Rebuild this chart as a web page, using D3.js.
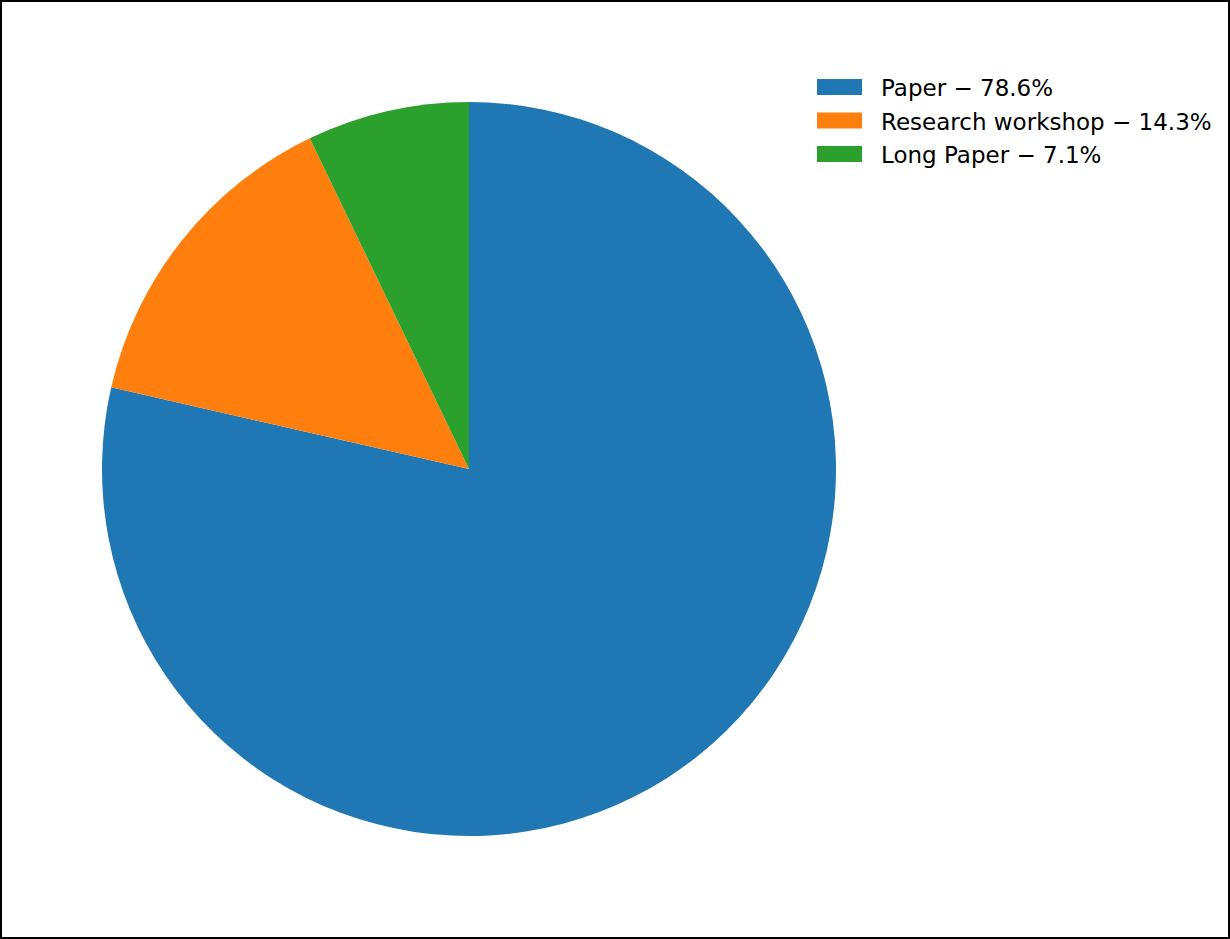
<!DOCTYPE html>
<html>
<head>
<meta charset="utf-8">
<script src="https://cdn.jsdelivr.net/npm/d3@7"></script>
<style>
  body { margin: 0; background: #fff; }
  svg { display: block; }
</style>
</head>
<body>
<div id="container"></div>
<script>
// pie data
var categories = ["Paper", "Research workshop", "Long Paper"];
var counts = [11, 2, 1];
var colors = ["#1f77b4", "#ff7f0e", "#2ca02c"];

var svg_width = 1230,
    svg_height = 939;

var cx = 469, cy = 469, radius = 367;

var svg = d3.select("#container")
  .append("svg")
  .attr("width", svg_width)
  .attr("height", svg_height);

svg.append("rect")
  .attr("x", 1).attr("y", 1)
  .attr("width", svg_width - 2).attr("height", svg_height - 2)
  .style("fill", "#fff")
  .style("stroke", "#000")
  .style("stroke-width", 2);

var data = categories.map(function(c, i) { return {name: c, value: counts[i]}; });
var total = d3.sum(counts);

var pie = d3.pie().sort(null).value(function(d) { return d.value; });
var arc = d3.arc().innerRadius(0).outerRadius(radius);

var color = d3.scaleOrdinal().domain(categories).range(colors);

svg.append("g")
  .attr("transform", "translate(" + cx + "," + cy + ")")
  .selectAll("path")
  .data(pie(data))
  .enter()
  .append("path")
  .attr("d", arc)
  .style("fill", function(d) { return color(d.data.name); });

// legend
var legend = svg.selectAll(".legend")
  .data(data)
  .enter()
  .append("g")
  .attr("class", "legend")
  .attr("transform", function(d, i) { return "translate(817," + (79 + i * 33.5) + ")"; });

legend.append("rect")
  .attr("width", 45)
  .attr("height", 16)
  .style("fill", function(d) { return color(d.name); });

legend.append("text")
  .attr("x", 64)
  .attr("y", 9)
  .attr("dy", "0.35em")
  .style("font-family", "DejaVu Sans")
  .style("font-size", "23px")
  .text(function(d) { return d.name + " \u2212 " + (d.value / total * 100).toFixed(1) + "%"; });
</script>
</body>
</html>
